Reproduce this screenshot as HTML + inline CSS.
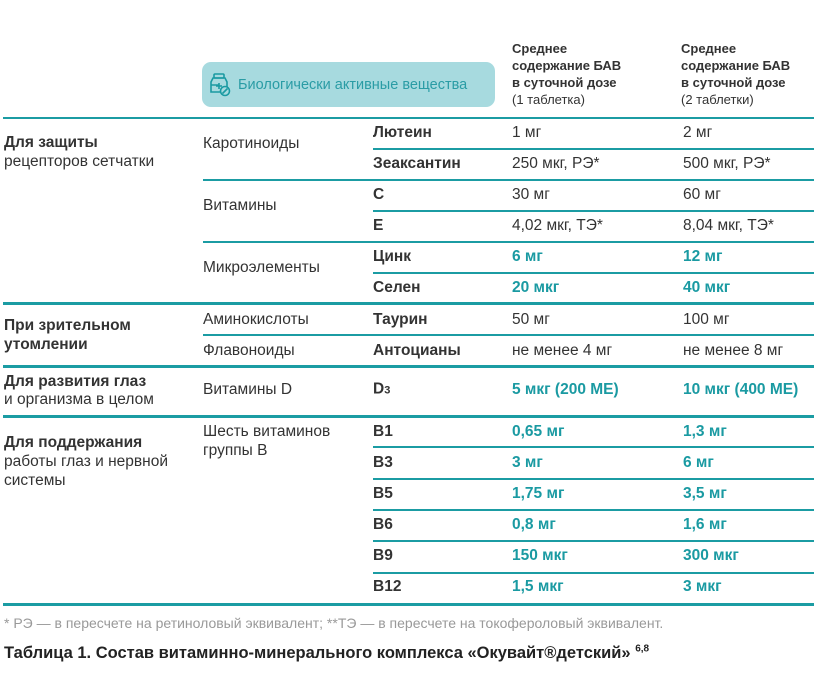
<!DOCTYPE html>
<html><head><meta charset="utf-8"><style>
body{margin:0;width:817px;height:678px;background:#fff;position:relative;overflow:hidden;font-family:"Liberation Sans","DejaVu Sans",sans-serif;color:#333;}
.t{position:absolute;white-space:nowrap;font-size:15.5px;line-height:18px;transform:translateY(-50%);}
.b{font-weight:bold;}
.c{color:#1a9aa2;font-weight:bold;}
.l{position:absolute;background:#1b9ca3;height:1.5px;right:3px;}
.L{position:absolute;background:#1b9ca3;height:3px;left:3px;right:3px;}
.h{position:absolute;font-size:13px;line-height:17px;font-weight:bold;color:#333;}
.h span{font-weight:normal;}
</style></head><body>
<div class="h" style="left:512px;top:40px">Среднее<br>содержание БАВ<br>в суточной дозе<br><span>(1 таблетка)</span></div>
<div class="h" style="left:681px;top:40px">Среднее<br>содержание БАВ<br>в суточной дозе<br><span>(2 таблетки)</span></div>
<div style="position:absolute;left:202px;top:62px;width:293px;height:45px;background:#a7dadf;border-radius:9px;"></div>
<svg style="position:absolute;left:207px;top:72px" width="26" height="26" viewBox="0 0 26 26" fill="none" stroke="#1a9aa2" stroke-width="1.6"><rect x="7" y="2" width="10" height="4" rx="1"/><path d="M6 6h12l2 4v10H4V10z"/><path d="M4 13h8M12 11v6M9 14h6" /><circle cx="18" cy="19" r="4.5" fill="#a7dadf"/><path d="M15.5 21.5l5-5"/></svg>
<div class="t" style="left:238px;top:85px;font-size:14.5px;color:#2a9ca5">Биологически активные вещества</div>

<div class="l" style="left:3px;top:117px"></div>
<div class="l" style="left:373px;top:148px"></div>
<div class="l" style="left:203px;top:179px"></div>
<div class="l" style="left:373px;top:210px"></div>
<div class="l" style="left:203px;top:241px"></div>
<div class="l" style="left:373px;top:272px"></div>
<div class="L" style="top:302px"></div>
<div class="l" style="left:203px;top:334px"></div>
<div class="L" style="top:365px"></div>
<div class="L" style="top:415px"></div>
<div class="l" style="left:373px;top:446px"></div>
<div class="l" style="left:373px;top:478px"></div>
<div class="l" style="left:373px;top:509px"></div>
<div class="l" style="left:373px;top:540px"></div>
<div class="l" style="left:373px;top:572px"></div>
<div class="L" style="top:603px"></div>

<div class="t b" style="left:4px;top:143px">Для защиты</div>
<div class="t" style="left:4px;top:162px">рецепторов сетчатки</div>
<div class="t" style="left:203px;top:144px">Каротиноиды</div>
<div class="t" style="left:203px;top:206px">Витамины</div>
<div class="t" style="left:203px;top:268px">Микроэлементы</div>
<div class="t b" style="left:373px;top:133px">Лютеин</div>
<div class="t b" style="left:373px;top:164px">Зеаксантин</div>
<div class="t b" style="left:373px;top:195px">C</div>
<div class="t b" style="left:373px;top:226px">E</div>
<div class="t b" style="left:373px;top:257px">Цинк</div>
<div class="t b" style="left:373px;top:288px">Селен</div>
<div class="t" style="left:512px;top:133px">1 мг</div>
<div class="t" style="left:512px;top:164px">250 мкг, РЭ*</div>
<div class="t" style="left:512px;top:195px">30 мг</div>
<div class="t" style="left:512px;top:226px">4,02 мкг, ТЭ*</div>
<div class="t c" style="left:512px;top:257px">6 мг</div>
<div class="t c" style="left:512px;top:288px">20 мкг</div>
<div class="t" style="left:683px;top:133px">2 мг</div>
<div class="t" style="left:683px;top:164px">500 мкг, РЭ*</div>
<div class="t" style="left:683px;top:195px">60 мг</div>
<div class="t" style="left:683px;top:226px">8,04 мкг, ТЭ*</div>
<div class="t c" style="left:683px;top:257px">12 мг</div>
<div class="t c" style="left:683px;top:288px">40 мкг</div>

<div class="t b" style="left:4px;top:326px">При зрительном</div>
<div class="t b" style="left:4px;top:345px">утомлении</div>
<div class="t" style="left:203px;top:320px">Аминокислоты</div>
<div class="t" style="left:203px;top:351px">Флавоноиды</div>
<div class="t b" style="left:373px;top:320px">Таурин</div>
<div class="t b" style="left:373px;top:351px">Антоцианы</div>
<div class="t" style="left:512px;top:320px">50 мг</div>
<div class="t" style="left:512px;top:351px">не менее 4 мг</div>
<div class="t" style="left:683px;top:320px">100 мг</div>
<div class="t" style="left:683px;top:351px">не менее 8 мг</div>

<div class="t b" style="left:4px;top:382px">Для развития глаз</div>
<div class="t" style="left:4px;top:400px">и организма в целом</div>
<div class="t" style="left:203px;top:390px">Витамины D</div>
<div class="t b" style="left:373px;top:390px">D<span style="font-size:11px">3</span></div>
<div class="t c" style="left:512px;top:390px">5 мкг (200 МЕ)</div>
<div class="t c" style="left:683px;top:390px">10 мкг (400 МЕ)</div>

<div class="t b" style="left:4px;top:443px">Для поддержания</div>
<div class="t" style="left:4px;top:462px">работы глаз и нервной</div>
<div class="t" style="left:4px;top:481px">системы</div>
<div class="t" style="left:203px;top:432px">Шесть витаминов</div>
<div class="t" style="left:203px;top:451px">группы В</div>
<div class="t b" style="left:373px;top:432px">B1</div>
<div class="t b" style="left:373px;top:463px">B3</div>
<div class="t b" style="left:373px;top:494px">B5</div>
<div class="t b" style="left:373px;top:525px">B6</div>
<div class="t b" style="left:373px;top:556px">B9</div>
<div class="t b" style="left:373px;top:587px">B12</div>
<div class="t c" style="left:512px;top:432px">0,65 мг</div>
<div class="t c" style="left:512px;top:463px">3 мг</div>
<div class="t c" style="left:512px;top:494px">1,75 мг</div>
<div class="t c" style="left:512px;top:525px">0,8 мг</div>
<div class="t c" style="left:512px;top:556px">150 мкг</div>
<div class="t c" style="left:512px;top:587px">1,5 мкг</div>
<div class="t c" style="left:683px;top:432px">1,3 мг</div>
<div class="t c" style="left:683px;top:463px">6 мг</div>
<div class="t c" style="left:683px;top:494px">3,5 мг</div>
<div class="t c" style="left:683px;top:525px">1,6 мг</div>
<div class="t c" style="left:683px;top:556px">300 мкг</div>
<div class="t c" style="left:683px;top:587px">3 мкг</div>

<div class="t" style="left:4px;top:623px;font-size:14px;color:#999">* РЭ — в пересчете на ретиноловый эквивалент; **ТЭ — в пересчете на токофероловый эквивалент.</div>
<div class="t b" style="left:4px;top:651px;font-size:16.5px;color:#222">Таблица 1. Состав витаминно-минерального комплекса «Окувайт®детский» <sup style="font-size:10px">6,8</sup></div>
</body></html>
